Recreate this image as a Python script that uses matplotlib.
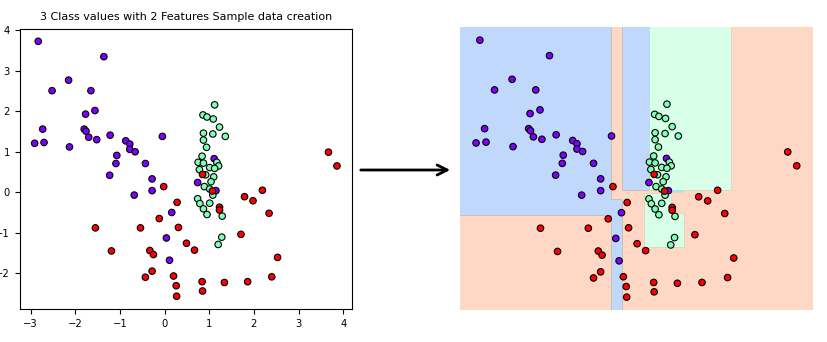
import numpy as np
import matplotlib
matplotlib.use('Agg')
import matplotlib.pyplot as plt

# Class 0 (purple)
purple_x = [-2.83, -1.36, -2.15, -2.52, -1.65, -1.56, -1.77, -2.73, -1.80, -1.76,
            -1.70, -1.52, -1.22, -2.91, -2.70, -2.13, -0.87, -0.78, -0.78, -0.66,
            -1.07, -1.09, -1.23, -0.43, -0.05, -0.28, -0.28, -0.68, 0.16, 0.04,
            0.11, 1.11, 0.74, 1.15]
purple_y = [3.73, 3.35, 2.77, 2.51, 2.51, 2.02, 1.93, 1.56, 1.56, 1.51,
            1.36, 1.30, 1.41, 1.21, 1.23, 1.12, 1.27, 1.19, 1.06, 1.00,
            0.91, 0.71, 0.42, 0.71, 1.38, 0.33, 0.04, -0.07, -0.50, -1.13,
            -1.68, 0.83, 0.24, 0.04]

# Class 1 (green)
green_x = [1.12, 0.86, 0.95, 1.09, 1.23, 0.87, 1.08, 1.36, 0.87, 0.94,
           0.84, 0.75, 0.87, 1.17, 1.21, 1.01, 1.12, 0.78, 0.92, 1.10,
           1.04, 0.89, 1.01, 1.08, 0.74, 0.79, 1.01, 0.87, 0.95, 1.29,
           1.28, 1.20]
green_y = [2.16, 1.91, 1.86, 1.81, 1.61, 1.46, 1.44, 1.38, 1.29, 1.11,
           0.89, 0.74, 0.72, 0.74, 0.65, 0.61, 0.59, 0.56, 0.43, 0.38,
           0.26, 0.14, 0.08, -0.07, -0.16, -0.28, -0.27, -0.41, -0.55, -0.59,
           -1.11, -1.29]

# Class 2 (red)
red_x = [3.67, 3.86, -0.02, 0.28, -0.12, 0.31, -0.54, -1.55, -1.19, -0.33,
         -0.25, 0.49, 0.67, -0.28, -0.43, 0.20, 0.26, 0.27, 0.84, 0.85,
         1.34, 1.86, 2.40, 2.53, 1.71, 2.34, 1.79, 1.98, 2.19, 1.23,
         1.23, 0.85, 1.07]
red_y = [0.99, 0.65, 0.14, -0.25, -0.65, -0.87, -0.88, -0.88, -1.45, -1.44,
         -1.54, -1.26, -1.43, -1.95, -2.10, -2.07, -2.31, -2.57, -2.21, -2.44,
         -2.23, -2.21, -2.09, -1.61, -1.04, -0.52, -0.11, -0.21, 0.05, -0.37,
         -0.44, 0.44, 0.03]

# Decision tree leaves (x0, x1, y0, y1, class); rest is class 2
leaf_x0 = [-np.inf, 0.18, 0.75, 1.23, -0.04, 0.64, 0.64]
leaf_x1 = [-0.04, 0.75, 2.50, 1.47, 0.18, 1.23, 1.49]
leaf_y0 = [-0.57, 0.05, 0.05, 0.00, -np.inf, -0.51, -1.37]
leaf_y1 = [np.inf, np.inf, np.inf, 0.05, -0.18, -0.02, -0.51]
leaf_class = [0, 0, 1, 0, 0, 1, 1]

X = np.column_stack([purple_x + green_x + red_x, purple_y + green_y + red_y])
y = np.array([0] * len(purple_x) + [1] * len(green_x) + [2] * len(red_x))


def predict(xx, yy):
    Z = np.full(xx.shape, 2)
    for x0, x1, y0, y1, c in zip(leaf_x0, leaf_x1, leaf_y0, leaf_y1, leaf_class):
        Z[(xx >= x0) & (xx < x1) & (yy >= y0) & (yy < y1)] = c
    return Z


fig = plt.figure(figsize=(8.28, 3.42), dpi=100)

# Left: raw sample data
ax1 = fig.add_axes([0.0236, 0.0965, 0.4016, 0.820])
ax1.scatter(X[:, 0], X[:, 1], c=y, s=22, cmap='rainbow', edgecolor='k', linewidths=0.8)
ax1.set_title('3 Class values with 2 Features Sample data creation', fontsize=8.0)
ax1.tick_params(labelsize=7.2)

# Right: decision boundary
ax2 = fig.add_axes([0.5556, 0.0936, 0.426, 0.8266])
ax2.scatter(X[:, 0], X[:, 1], c=y, s=22, cmap='rainbow', edgecolor='k', linewidths=0.8,
            clim=(y.min(), y.max()), zorder=3)
ax2.axis('tight')
ax2.axis('off')
xlim_start, xlim_end = ax2.get_xlim()
ylim_start, ylim_end = ax2.get_ylim()
xx, yy = np.meshgrid(np.linspace(xlim_start, xlim_end, num=400),
                     np.linspace(ylim_start, ylim_end, num=400))
Z = predict(xx, yy)
n_classes = len(np.unique(y))
ax2.contourf(xx, yy, Z, alpha=0.3, levels=np.arange(n_classes + 1) - 0.5,
             cmap='rainbow', zorder=1)
ax2.set_xlim(xlim_start, xlim_end)
ax2.set_ylim(ylim_start, ylim_end)

# Arrow between panels
fig.add_artist(matplotlib.patches.FancyArrowPatch(
    (358 / 828, 1 - 170 / 342), (453 / 828, 1 - 170 / 342),
    transform=fig.transFigure, arrowstyle='->', mutation_scale=18,
    lw=2, color='k'))

fig.savefig('out.png', dpi=100)
